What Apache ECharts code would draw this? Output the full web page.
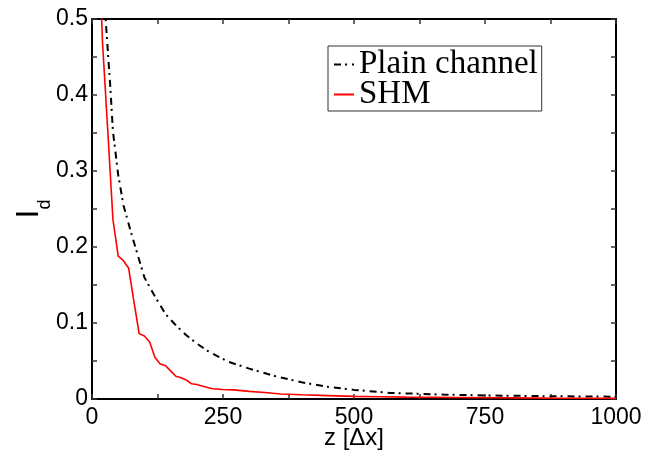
<!DOCTYPE html>
<html>
<head>
<meta charset="utf-8">
<script src="https://cdn.jsdelivr.net/npm/echarts@6/dist/echarts.min.js"></script>
<style>html,body{margin:0;padding:0;background:#fff}#c{width:661px;height:453px}</style>
</head>
<body>
<div id="c"></div>
<script>
// Data
var plainZ = [15, 20, 25, 30, 35, 40, 50, 60, 75, 100, 120, 140, 160, 180, 200, 220, 260, 300, 350, 400, 450, 500, 570, 670, 760, 860, 1000];
var plainI = [0.68, 0.59, 0.51, 0.46, 0.41, 0.352, 0.295, 0.255, 0.218, 0.160, 0.135, 0.112, 0.097, 0.084, 0.073, 0.0635, 0.049, 0.040, 0.030, 0.022, 0.016, 0.012, 0.008, 0.0058, 0.0046, 0.0038, 0.003];
var shmZ = [10, 20, 30, 40, 50, 60, 70, 80, 90, 100, 110, 120, 130, 140, 150, 160, 170, 180, 190, 200, 215, 230, 250, 270, 300, 330, 360, 400, 450, 500, 550, 600, 700, 800, 900, 1000];
var shmI = [0.66, 0.47, 0.354, 0.236, 0.188, 0.182, 0.172, 0.128, 0.086, 0.083, 0.075, 0.055, 0.046, 0.044, 0.037, 0.030, 0.028, 0.025, 0.020, 0.019, 0.016, 0.0135, 0.0125, 0.012, 0.010, 0.0085, 0.0065, 0.0055, 0.0045, 0.0035, 0.003, 0.0025, 0.002, 0.0015, 0.001, 0.0008];
var xTicks = [0, 250, 500, 750, 1000];
var yTicks = [0, 0.1, 0.2, 0.3, 0.4, 0.5];
var seriesNames = ['Plain channel', 'SHM'];

function pairs(xs, ys) { return xs.map(function (x, i) { return [x, ys[i]]; }); }

var chart = echarts.init(document.getElementById('c'), null, { renderer: 'canvas' });
var sans = 'Liberation Sans';
var axisCommon = {
  axisLine: { show: true, onZero: false, lineStyle: { color: '#000', width: 2 } },
  axisTick: { show: true, inside: true, length: 5, lineStyle: { color: '#333', width: 1.5 } },
  minorTick: { show: true, splitNumber: 2, length: 5, lineStyle: { color: '#333', width: 1.5 } },
  splitLine: { show: false }
};
var option = {
  animation: false,
  backgroundColor: '#fff',
  grid: { left: 92, right: 45, top: 19, bottom: 54, containLabel: false, outerBoundsMode: 'none' },
  legend: {
    data: seriesNames,
    orient: 'vertical',
    left: 328, top: 46,
    padding: [2, 4, 0, 5],
    itemWidth: 20, itemHeight: 10, itemGap: -3,
    borderColor: '#333', borderWidth: 1, borderRadius: 0,
    backgroundColor: '#fff',
    itemStyle: { opacity: 0 },
    textStyle: { fontFamily: 'Liberation Serif', fontSize: 33, lineHeight: 30, color: '#000' }
  },
  xAxis: [
    Object.assign({}, axisCommon, {
      type: 'value', min: xTicks[0], max: xTicks[xTicks.length - 1], interval: 250, position: 'bottom',
      name: 'z [Δx]', nameLocation: 'middle', nameGap: 27, nameMoveOverlap: false,
      nameTextStyle: { fontFamily: sans, fontSize: 24, color: '#000', verticalAlign: 'top' },
      axisLabel: { margin: 7, fontFamily: sans, fontSize: 23, color: '#000', formatter: function (v) { return String(v); } }
    }),
    Object.assign({}, axisCommon, {
      type: 'value', min: xTicks[0], max: xTicks[xTicks.length - 1], interval: 250, position: 'top',
      axisLabel: { show: false }
    })
  ],
  yAxis: [
    Object.assign({}, axisCommon, {
      type: 'value', min: yTicks[0], max: yTicks[yTicks.length - 1], interval: 0.1, position: 'left',
      name: '{a|I}{b|d}', nameLocation: 'middle', nameGap: 47, nameRotate: 90, nameMoveOverlap: false,
      nameTextStyle: {
        rich: {
          a: { fontFamily: sans, fontSize: 32, color: '#000', verticalAlign: 'bottom' },
          b: { fontFamily: sans, fontSize: 18, color: '#000', verticalAlign: 'bottom', padding: [0, 0, -9, 0] }
        }
      },
      axisLabel: {
        margin: 4, fontFamily: sans, fontSize: 23, color: '#000',
        formatter: function (v) { return v === 0 ? '0' : v.toFixed(1); }
      }
    }),
    Object.assign({}, axisCommon, {
      type: 'value', min: yTicks[0], max: yTicks[yTicks.length - 1], interval: 0.1, position: 'right',
      axisLabel: { show: false }
    })
  ],
  series: [
    {
      name: seriesNames[0], type: 'line', symbol: 'none', clip: true,
      data: pairs(plainZ, plainI),
      lineStyle: { color: '#000', width: 2, type: [7, 4, 2, 5] },
      itemStyle: { color: '#000' }
    },
    {
      name: seriesNames[1], type: 'line', symbol: 'none', clip: true,
      data: pairs(shmZ, shmI),
      lineStyle: { color: '#ff0000', width: 1.6 },
      itemStyle: { color: '#ff0000' }
    }
  ]
};
chart.setOption(option);
</script>
</body>
</html>
